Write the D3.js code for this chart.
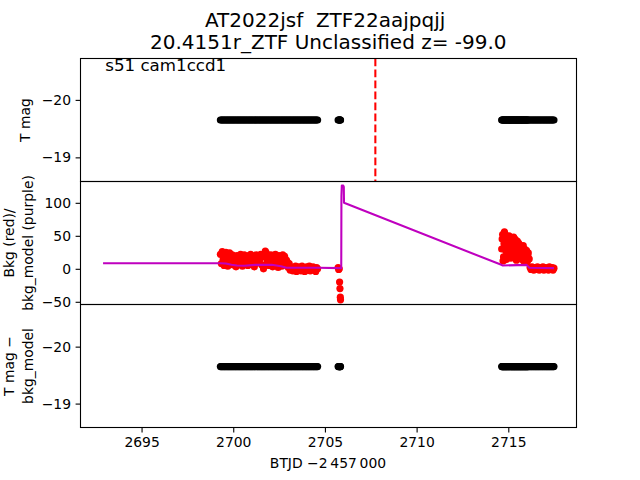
<!DOCTYPE html>
<html><head><meta charset="utf-8">
<script src="https://cdn.jsdelivr.net/npm/d3@7"></script>
<style>body{margin:0;background:#fff}svg{display:block}text{font-family:"DejaVu Sans",sans-serif;fill:#000}</style>
</head><body>
<svg id="c" width="640" height="480"></svg>
<script>
// ---------- text ----------
const title1 = "AT2022jsf  ZTF22aajpqjj ";
const title2 = "20.4151r_ZTF Unclassified z= -99.0";
const annot = "s51 cam1ccd1";
const xLabel = "BTJD \u22122\u2009457\u2009000";
const yLabel1 = ["T mag"];
const yLabel2 = ["Bkg (red)/", "bkg_model (purple)"];
const yLabel3 = ["T mag \u2212", "bkg_model"];
// ---------- ticks ----------
const xTicks = [2695, 2700, 2705, 2710, 2715];
const magTicks = [-20, -19];
const bkgTicks = [100, 50, 0, -50];
// ---------- data ----------
const tDisc = 2707.75;      // red dashed line
const tmagLevel = -19.65;   // constant T mag of all points
const tSeg1 = [
2699.30,2699.35,2699.40,2699.45,2699.50,2699.55,2699.60,2699.65,2699.70,2699.75,
2699.80,2699.85,2699.90,2699.95,2700.00,2700.05,2700.10,2700.15,2700.20,2700.25,
2700.30,2700.35,2700.40,2700.45,2700.50,2700.55,2700.60,2700.65,2700.70,2700.75,
2700.80,2700.85,2700.90,2700.95,2701.00,2701.05,2701.10,2701.15,2701.20,2701.25,
2701.30,2701.35,2701.40,2701.45,2701.50,2701.55,2701.60,2701.65,2701.70,2701.75,
2701.80,2701.85,2701.90,2701.95,2702.00,2702.05,2702.10,2702.15,2702.20,2702.25,
2702.30,2702.35,2702.40,2702.45,2702.50,2702.55,2702.60,2702.65,2702.70,2702.75,
2702.80,2702.85,2702.90,2702.95,2703.00,2703.05,2703.10,2703.15,2703.20,2703.25,
2703.30,2703.35,2703.40,2703.45,2703.50,2703.55,2703.60,2703.65,2703.70,2703.75,
2703.80,2703.85,2703.90,2703.95,2704.00,2704.05,2704.10,2704.15,2704.20,2704.25,
2704.30,2704.35,2704.40,2704.45,2704.50,2704.55,2704.60];
const bkgSeg1 = [
22,8,26,14,5,19,25,11,4,17,
24,9,15,21,6,18,12,3,20,14,
7,19,22,10,4,16,21,8,13,18,
5,20,11,22,7,15,19,3,12,21,
9,17,12,14,22,6,18,0,20,27,
24,11,20,5,16,21,9,3,19,13,
22,7,17,2,20,12,18,4,21,9,
19,6,13,10,2,8,-2,3,1,-3,
2,-1,4,-4,0,3,-2,1,-3,4,
-1,2,-4,1,3,-2,0,4,-3,2,
-1,3,-2,1,-4,2,0];
const tDip = [2705.72,2705.75,2705.78,2705.80,2705.82,2705.84,2705.85];
const bkgDip = [2,-1,0,-20,-30,-43,-47];
const tSeg2 = [
2714.64,2714.69,2714.74,2714.79,2714.84,2714.89,2714.94,2714.99,
2715.04,2715.09,2715.14,2715.19,2715.24,2715.29,2715.34,2715.39,2715.44,2715.49,2715.54,2715.59,
2715.64,2715.69,2715.74,2715.79,2715.84,2715.89,2715.94,2715.99,2716.04,2716.09,
2716.14,2716.19,2716.24,2716.29,2716.34,2716.39,2716.44,2716.49,2716.54,2716.59,
2716.64,2716.69,2716.74,2716.79,2716.84,2716.89,2716.94,2716.99,2717.04,2717.09,
2717.14,2717.19,2717.24,2717.29,2717.34,2717.39,2717.44,2717.49];
const bkgSeg2 = [
30,52,18,56,40,14,47,25,50,35,
16,44,28,48,20,38,13,42,30,22,
36,15,33,26,12,30,19,28,11,24,
15,2,-1,3,0,-2,2,1,-1,3,
0,-2,2,-1,1,3,-2,0,2,-1,
1,-2,3,0,-1,2,-2,1];
const tSeg2b = [
2714.665,2714.715,2714.765,2714.815,2714.865,2714.915,2714.965,2715.015,2715.065,2715.115,
2715.165,2715.215,2715.265,2715.315,2715.365,2715.415,2715.465,2715.515,2715.565,2715.615,
2715.665,2715.715,2715.765,2715.815,2715.865,2715.915,2715.965,2716.015,2716.065];
const bkgSeg2b = [
45,12,38,53,27,33,19,44,37,28,
34,21,40,17,45,26,35,18,39,27,
20,31,14,35,23,17,27,14,20];
const modelT = [2692.90,2699.30,2699.60,2699.90,2700.20,2700.60,2701.20,2702.10,2702.60,2702.90,2704.60,2705.86,2705.89,2705.90,2705.92,2706.00,2706.03,2706.04,2714.62,2714.70,2716.00,2716.15,2717.49];
const modelBkg = [8.5,8.5,8,6,5,4.5,6,6,4,1.5,1.5,1,1,110,126,126,124,100,6,5,6,1.5,1];

const times = tSeg1.concat(tDip, tSeg2, tSeg2b);
const bkgVals = bkgSeg1.concat(bkgDip, bkgSeg2, bkgSeg2b);
const pts = times.map((t, i) => ({t, b: bkgVals[i]}));
const model = modelT.map((t, i) => ({t, b: modelBkg[i]}));

// ---------- layout ----------
const svg = d3.select("#c");
svg.append("rect").attr("width", 640).attr("height", 480).attr("fill", "#fff");
const L = 80.5, R = 576.5;
const P = [{top: 58.5, bot: 181.5}, {top: 181.5, bot: 304.5}, {top: 304.5, bot: 427.5}];
const x = d3.scaleLinear().domain([2691.67, 2718.72]).range([L, R]);
const y1 = d3.scaleLinear().domain([-20.72, -18.58]).range([P[0].top, P[0].bot]);
const y2 = d3.scaleLinear().domain([132.3, -54.1]).range([P[1].top, P[1].bot]);
const y3 = d3.scaleLinear().domain([-20.74, -18.58]).range([P[2].top, P[2].bot]);

const defs = svg.append("defs");
P.forEach((p, i) => {
  defs.append("clipPath").attr("id", "clip" + i).append("rect")
    .attr("x", L).attr("y", p.top).attr("width", R - L).attr("height", p.bot - p.top);
});
const g1 = svg.append("g").attr("clip-path", "url(#clip0)");
const g2 = svg.append("g").attr("clip-path", "url(#clip1)");
const g3 = svg.append("g").attr("clip-path", "url(#clip2)");
const rad = 3.6;

// panel 1
g1.selectAll("circle").data(pts).join("circle")
  .attr("cx", d => x(d.t)).attr("cy", y1(tmagLevel)).attr("r", rad).attr("fill", "#000");
g1.append("line").attr("x1", x(tDisc)).attr("x2", x(tDisc))
  .attr("y1", P[0].top).attr("y2", P[0].bot)
  .attr("stroke", "#ff0000").attr("stroke-width", 2.08).attr("stroke-dasharray", "7.7,3.3");

// panel 2
g2.selectAll("circle").data(pts).join("circle")
  .attr("cx", d => x(d.t)).attr("cy", d => y2(d.b)).attr("r", rad).attr("fill", "#ff0000");
g2.append("path").datum(model)
  .attr("d", d3.line().x(d => x(d.t)).y(d => y2(d.b)))
  .attr("fill", "none").attr("stroke", "#bf00bf").attr("stroke-width", 2.08).attr("stroke-linejoin", "round");

// panel 3
g3.selectAll("circle").data(pts).join("circle")
  .attr("cx", d => x(d.t)).attr("cy", y3(tmagLevel)).attr("r", rad).attr("fill", "#000");

// frames
P.forEach(p => {
  svg.append("rect").attr("x", L).attr("y", p.top).attr("width", R - L).attr("height", p.bot - p.top)
    .attr("fill", "none").attr("stroke", "#000").attr("stroke-width", 1.1);
});

// y axes
function yAxis(scale, ticks) {
  const g = svg.append("g").attr("transform", `translate(${L},0)`)
    .call(d3.axisLeft(scale).tickValues(ticks).tickSize(4.9).tickPadding(4.6).tickFormat(d3.format("d")));
  g.select(".domain").remove();
  g.selectAll("line").attr("stroke", "#000").attr("stroke-width", 1.1);
  g.selectAll("text").attr("font-family", "DejaVu Sans").attr("font-size", 13.9).attr("fill", "#000");
}
yAxis(y1, magTicks); yAxis(y2, bkgTicks); yAxis(y3, magTicks);

// x axis
const gx = svg.append("g").attr("transform", `translate(0,${P[2].bot})`)
  .call(d3.axisBottom(x).tickValues(xTicks).tickSize(4.9).tickPadding(4.6).tickFormat(d3.format("d")));
gx.select(".domain").remove();
gx.selectAll("line").attr("stroke", "#000").attr("stroke-width", 1.1);
gx.selectAll("text").attr("font-family", "DejaVu Sans").attr("font-size", 13.9).attr("fill", "#000");

// labels
svg.append("text").attr("x", 328).attr("y", 468).attr("text-anchor", "middle")
  .attr("font-size", 13.9).text(xLabel);
function yLab(lines, cy, baselines) {
  lines.forEach((s, i) => {
    svg.append("text").attr("transform", `translate(${baselines[i]},${cy}) rotate(-90)`)
      .attr("text-anchor", "middle").attr("font-size", 13.9).text(s);
  });
}
yLab(yLabel1, (P[0].top + P[0].bot) / 2, [30]);
yLab(yLabel2, (P[1].top + P[1].bot) / 2, [14, 32.5]);
yLab(yLabel3, (P[2].top + P[2].bot) / 2, [13.5, 32.5]);

// titles
svg.append("text").attr("x", 328.3).attr("y", 27.3).attr("text-anchor", "middle")
  .attr("font-size", 20).attr("xml:space", "preserve").style("white-space", "pre").text(title1);
svg.append("text").attr("x", 328.3).attr("y", 49).attr("text-anchor", "middle")
  .attr("font-size", 20).text(title2);
svg.append("text").attr("x", 105.3).attr("y", 71).attr("font-size", 16.67).text(annot);
</script>
</body></html>
